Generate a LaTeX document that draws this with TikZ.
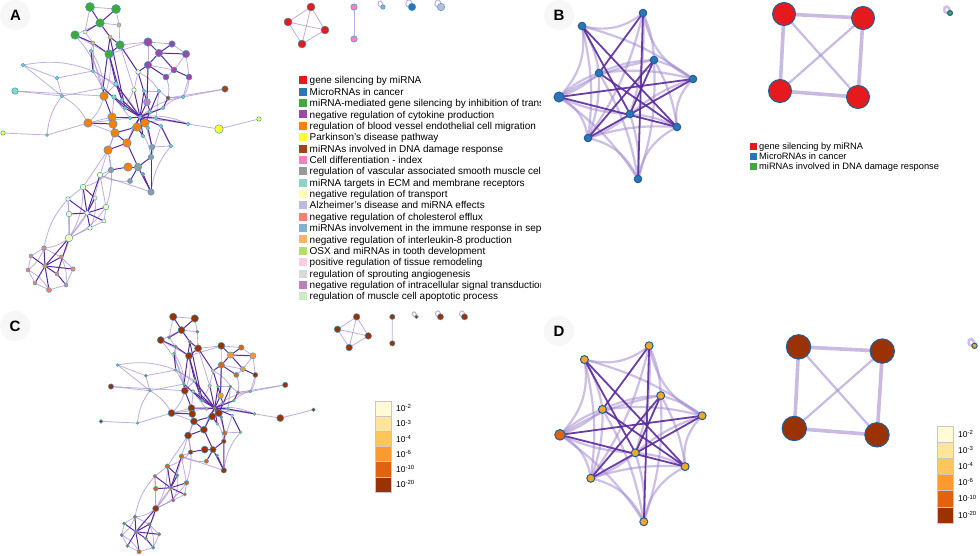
\documentclass[tikz,border=0pt]{standalone}
\usepackage{fontspec}
\setmainfont{Liberation Sans}
\pgfdeclarelayer{bglayer}
\pgfdeclarelayer{edgelayer}
\pgfsetlayers{bglayer,edgelayer,main}
% group colours
\definecolor{cRed}{HTML}{E41A1C}
\definecolor{cBlue}{HTML}{2E75B6}
\definecolor{cGreen}{HTML}{41A83E}
\definecolor{cPurple}{HTML}{9B4AA3}
\definecolor{cOrange}{HTML}{FF7F00}
\definecolor{cYellow}{HTML}{FFFF33}
\definecolor{cBrown}{HTML}{A0441A}
\definecolor{cPink}{HTML}{F781BF}
\definecolor{cGray}{HTML}{999999}
\definecolor{cTeal}{HTML}{8DD3C7}
\definecolor{cLYellow}{HTML}{FFFFB3}
\definecolor{cLav}{HTML}{BEBADA}
\definecolor{cSalmon}{HTML}{FB8072}
\definecolor{cSky}{HTML}{80B1D3}
\definecolor{cLOrange}{HTML}{FDB462}
\definecolor{cLGreen}{HTML}{B3DE69}
\definecolor{cLPink}{HTML}{FCCDE5}
\definecolor{cLGray}{HTML}{D9D9D9}
\definecolor{cMauve}{HTML}{BC80BD}
\definecolor{cPaleGreen}{HTML}{CCEBC5}
% p-value colours
\definecolor{pA}{HTML}{FFFBD5}
\definecolor{pB}{HTML}{FFE49C}
\definecolor{pC}{HTML}{FEC65A}
\definecolor{pD}{HTML}{FD9A2D}
\definecolor{pE}{HTML}{E2620F}
\definecolor{pF}{HTML}{9A3204}
\definecolor{pGn}{HTML}{8CC152}
\definecolor{pAm}{HTML}{F5A623}
% lines
\definecolor{edgeDark}{HTML}{5B2A9C}
\definecolor{edgeLight}{HTML}{A48CD0}
\definecolor{nodeBd}{HTML}{3B9BC8}
\definecolor{bBd}{HTML}{1F5F99}
\tikzset{
  netnode/.style={circle,draw=nodeBd,line width=0.45pt,inner sep=0pt,outer sep=0pt},
  bignode/.style={circle,draw=bBd,line width=1pt,inner sep=0pt,outer sep=0pt},
  darkA/.style={draw=edgeDark,line width=1pt},
  lightA/.style={draw=edgeLight,line width=0.8pt,opacity=0.7},
  darkB/.style={draw=edgeDark,line width=1.8pt,opacity=0.9},
  lightB/.style={draw=edgeLight,line width=2.2pt,opacity=0.55},
  sideB/.style={draw=edgeLight,line width=3.6pt,opacity=0.6},
  diagB/.style={draw=edgeLight,line width=2.2pt,opacity=0.6},
  panellabel/.style={font=\fontsize{15}{15}\selectfont\bfseries,inner sep=0pt},
  labeldisc/.style={fill=black!3,draw=none},
  legsq/.style={minimum size=8pt,inner sep=0pt,draw=none},
  legtxt/.style={font=\fontsize{10}{12}\selectfont,inner sep=0pt},
  legtxtB/.style={font=\fontsize{9.3}{11}\selectfont,inner sep=0pt},
  cbox/.style={draw=black!22,line width=0.5pt,minimum width=16pt,inner sep=0pt},
  cbtxt/.style={font=\fontsize{8.5}{10}\selectfont,inner sep=0pt},
}
\newif\ifaltcol
\newcommand\netnd[6]{\ifaltcol\def\ndc{#6}\else\def\ndc{#5}\fi
  \node[netnode,minimum size=#4pt+0.5pt,fill=\ndc] (#1) at (#2,#3) {};}
\newcommand\bnd[6]{\ifaltcol\def\ndc{#6}\else\def\ndc{#5}\fi
  \node[bignode,minimum size=#4pt,fill=\ndc] (#1) at (#2,#3) {};}

\newcommand\netAnodes{%
% green
\netnd{g1}{90}{7}{8.5}{cGreen}{pF}
\netnd{g2}{116}{9}{8.5}{cGreen}{pF}
\netnd{g3}{100}{23}{8}{cGreen}{pF}
\netnd{g4}{75}{35}{8}{cGreen}{pF}
\netnd{g5}{120}{45}{8}{cGreen}{pF}
\netnd{g6}{109}{54}{8}{cGreen}{pF}
\netnd{t1}{119}{25}{3.5}{cLOrange}{pE}
\netnd{t2}{85}{32}{3.5}{cLYellow}{pE}
\netnd{t3}{110}{37}{3.5}{cLOrange}{pE}
\netnd{t4}{93}{43}{3.5}{cLOrange}{pE}
\netnd{t5}{91}{51}{3}{cTeal}{pGn}
% purple
\netnd{p1}{148}{42}{8}{cPurple}{pF}
\netnd{p2}{172}{44}{6}{cPurple}{pE}
\netnd{p3}{159}{53}{7}{cPurple}{pD}
\netnd{p4}{186}{54}{7}{cPurple}{pD}
\netnd{p5}{148}{65}{7}{cPurple}{pE}
\netnd{p6}{174}{70}{5.5}{cPurple}{pD}
\netnd{p7}{166}{77}{5.5}{cPurple}{pE}
\netnd{p8}{189}{77}{5.5}{cPurple}{pF}
% small teal
\netnd{c1}{23}{65}{3}{cTeal}{pGn}
\netnd{c2}{57}{78}{3}{cTeal}{pE}
\netnd{c3}{15}{91}{6}{cTeal}{pF}
\netnd{c4}{62}{96}{3}{cTeal}{pGn}
\netnd{c5}{138}{72}{4}{cLYellow}{pC}
\netnd{c6}{93}{71}{3}{cTeal}{pGn}
\netnd{c7}{116}{84}{4}{cTeal}{pC}
\netnd{c8}{134}{90}{4}{cLYellow}{pC}
\netnd{c9}{144}{91}{3}{cTeal}{pGn}
\netnd{c10}{159}{91}{3}{cTeal}{pE}
\netnd{c11}{103}{88}{3}{cTeal}{pGn}
\netnd{c12}{114}{97}{4}{cTeal}{pC}
\netnd{c13}{183}{97}{3}{cTeal}{pGn}
\netnd{c14}{188}{124}{3}{cTeal}{pGn}
\netnd{c15}{171}{146}{3}{cTeal}{pGn}
% hub
\netnd{H}{140}{117}{3}{cTeal}{pE}
\netnd{h1}{130}{118}{3}{cTeal}{pC}
\netnd{h2}{125}{108}{3}{cTeal}{pGn}
\netnd{h3}{150}{112}{3}{cTeal}{pE}
\netnd{h4}{156}{118}{3}{cTeal}{pGn}
\netnd{h5}{161}{126}{3}{cTeal}{pC}
\netnd{h6}{148}{128}{3}{cTeal}{pE}
\netnd{h7}{133}{128}{3}{cTeal}{pGn}
\netnd{h8}{143}{136}{3}{cTeal}{pC}
\netnd{h9}{163}{108}{3}{cTeal}{pGn}
\netnd{h10}{122}{100}{3}{cTeal}{pE}
% brown, mauve
\netnd{b1}{225}{89}{6}{cBrown}{pF}
\netnd{b2}{168}{98}{3.5}{cBrown}{pE}
\netnd{l1}{147}{102}{6.5}{cMauve}{pD}
% orange
\netnd{o1}{104}{96}{8}{cOrange}{pF}
\netnd{o2}{88}{123}{8}{cOrange}{pF}
\netnd{o3}{112}{117}{8}{cOrange}{pF}
\netnd{o4}{113}{124}{8}{cOrange}{pF}
\netnd{o5}{137}{127}{8}{cOrange}{pF}
\netnd{o6}{145}{123}{8}{cOrange}{pF}
\netnd{o7}{115}{133}{8}{cOrange}{pF}
\netnd{o8}{127}{143}{8}{cOrange}{pF}
\netnd{o9}{108}{150}{8}{cOrange}{pF}
\netnd{o10}{128}{167}{8}{cOrange}{pF}
% yellow
\netnd{y1}{219}{129}{8}{cYellow}{pF}
\netnd{y2}{259}{119}{4}{cYellow}{pF}
\netnd{y3}{3}{133}{4}{cYellow}{pF}
\netnd{y4}{47}{135}{2.5}{cLGreen}{pGn}
% gray
\netnd{gr1}{152}{147}{5}{cGray}{pE}
\netnd{gr2}{151}{157}{5}{cGray}{pF}
\netnd{gr3}{138}{167}{7}{cGray}{pF}
\netnd{gr5}{111}{170}{5}{cGray}{pF}
\netnd{gr6}{130}{181}{4.5}{cGray}{pE}
\netnd{gr7}{151}{192}{6}{cGray}{pF}
\netnd{sg}{143}{174}{3}{cGray}{pE}
% light yellow cluster
\netnd{ly1}{100}{175}{5}{cLYellow}{pE}
\netnd{ly2}{83}{187}{5}{cLYellow}{pE}
\netnd{ly3}{68}{199}{4}{cLYellow}{pE}
\netnd{ly4}{95}{198}{3.5}{cLYellow}{pE}
\netnd{ly5}{106}{207}{5}{cLYellow}{pE}
\netnd{ly6}{69}{214}{5}{cLYellow}{pE}
\netnd{ly7}{87}{213}{4}{cLYellow}{pE}
\netnd{ly8}{104}{221}{3.5}{cLYellow}{pE}
\netnd{ly9}{90}{228}{4}{cLYellow}{pE}
\netnd{ly10}{69}{238}{7}{cLYellow}{pF}
% salmon cluster
\netnd{s1}{44}{248}{4}{cSalmon}{pE}
\netnd{s2}{31}{256}{3.5}{cSalmon}{pE}
\netnd{s3}{61}{257}{3.5}{cSalmon}{pE}
\netnd{s4}{45}{266}{4}{cSalmon}{pE}
\netnd{s5}{73}{269}{4}{cSalmon}{pE}
\netnd{s6}{28}{270}{3.5}{cSalmon}{pE}
\netnd{s7}{57}{274}{3.5}{cSalmon}{pE}
\netnd{s8}{35}{283}{3.5}{cSalmon}{pE}
\netnd{s9}{66}{285}{3.5}{cSalmon}{pE}
\netnd{s10}{49}{290}{4.5}{cSalmon}{pE}
% small components
\netnd{r1}{311}{7}{7.5}{cRed}{pF}
\netnd{r2}{288}{22}{7.5}{cRed}{pF}
\netnd{r3}{325}{30}{7.5}{cRed}{pF}
\netnd{r4}{302}{44}{7.5}{cRed}{pF}
\netnd{k1}{354}{7}{6}{cPink}{pF}
\netnd{k2}{354}{39}{6}{cPink}{pF}
\netnd{L1}{383}{7}{4}{cSky}{pF}
\netnd{L2}{412}{7}{7}{cBlue}{pF}
\netnd{L3}{441}{7}{7}{cLav}{pF}
}

\newcommand\netAedges{%
\foreach \a/\b in {g1/g2, g2/t1, t1/g5, g1/t2, g3/g4, g4/g6, t2/t4, t4/t5, g3/t1,
  g5/p1, g6/p1, p1/p2, p2/p4, p4/p8, p7/p6, p5/p6, p4/p6, p1/p5, c1/c2, c1/c4,
  c3/c4, c2/c6, c4/c11, c3/o1, c2/c4, c6/c11, y3/y4, y4/o2, y1/y2, y1/c14, c14/H,
  b1/c13, c13/b2, b1/b2, c15/h5, o9/ly1, o9/ly2, ly1/gr5, ly3/ly6, ly6/ly10,
  ly9/ly10, ly10/ly3, ly2/ly3, ly5/ly8, ly8/ly9, ly1/ly5, ly10/ly7, s2/s6, s6/s8,
  s8/s10, s10/s9, s9/s5, s5/s3, s3/s1, s1/s2, o1/c7, o2/o3, o2/o7, o6/gr1,
  gr1/c15, c5/c8, c9/c10, c13/p8, c10/b2, o9/gr5, gr7/ly1, o7/o9, r1/r2, r1/r3,
  r2/r4, r3/r4, r1/r4, r2/r3, k1/k2, t5/o1, c6/c7, c12/o3, h3/h9, h4/c10, h6/gr1,
  h7/o8, h1/o2, l1/p5, c8/h2, c9/l1, h5/gr2, g5/c8, t4/c6, c12/h1}
  {\draw[lightA] (\a) -- (\b);}
\foreach \a/\b in {H/c13, H/c14, g4/o1, c6/H, ly5/ly10, s1/ly3, ly1/ly10, gr6/ly1,
  o9/ly5, c5/c10, p7/b2, o5/gr2, o6/c14, p8/c13, y4/c4, ly10/s3, ly10/s1, s1/s6,
  s3/s9, s6/s10, gr5/ly2, o4/o9, g6/o1, t5/c11, c1/c6, c4/o2, h9/c13, gr7/c15,
  o1/o2, ly2/ly10, ly4/ly9}
  {\draw[lightA] (\a) to[bend left=15] (\b);}
\foreach \n in {L1,L2,L3}
  {\draw[lightA,line width=1pt] (\n.west) .. controls +(-6,-2) and +(-3,-9) .. (\n.north);}
\foreach \a/\b in {g1/g3, g2/g3, g3/t3, t3/g5, t2/g3, g4/t4, t4/g6, g5/g6, g6/c7,
  t3/c11, g5/c5, g6/h10, t5/c6, p1/p3, p3/p4, p3/p5, p3/p6, p6/p8, p5/p7, p2/p3,
  p5/c5, H/o3, h3/o6, H/o6, h7/o7, H/o8, H/l1, H/c7, H/c8, H/c9, h3/c10, H/h1, H/h2,
  H/h3, H/h4, H/h5, H/h6, H/h7, H/h8, H/h9, H/h10, h6/gr1, h9/b2, h5/c15, H/c12, l1/p5,
  o2/o4, o3/o4, o4/o7, o7/o8, o8/o9, o5/o6, o1/o3, c11/o1, o10/gr3, gr1/gr2,
  gr2/gr3, gr3/gr7, gr3/gr6, gr5/o10, sg/gr7, o8/gr3, gr2/gr7, ly7/ly1, ly7/ly2,
  ly7/ly3, ly7/ly5, ly7/ly6, ly7/ly9, ly7/ly8, ly7/ly4, ly4/ly2, s4/s1, s4/s2,
  s4/s3, s4/s5, s4/s7, s4/s8, s4/s10, s7/s9, ly10/s4, ly10/s7, h2/t3, h2/c11, h10/c7,
  h8/o5, h4/c14, c5/h3}
  {\draw[darkA] (\a) -- (\b);}
}

\newcommand\netBnodes{%
\bnd{n1}{643}{13}{7.5}{cBlue}{pAm}
\bnd{n2}{582}{26}{7.5}{cBlue}{pAm}
\bnd{n3}{654}{60}{7.5}{cBlue}{pAm}
\bnd{n4}{599}{73}{7.5}{cBlue}{pAm}
\bnd{n5}{693}{79}{7.5}{cBlue}{pAm}
\bnd{n6}{559}{97}{10}{cBlue}{pE}
\bnd{n7}{630}{114}{7.5}{cBlue}{pAm}
\bnd{n8}{677}{127}{7.5}{cBlue}{pAm}
\bnd{n9}{588}{138}{7.5}{cBlue}{pAm}
\bnd{n10}{638}{179}{7.5}{cBlue}{pAm}
\bnd{R1}{784}{14}{23}{cRed}{pF}
\bnd{R2}{863}{18}{23}{cRed}{pF}
\bnd{R3}{780}{91}{23}{cRed}{pF}
\bnd{R4}{858}{97}{23}{cRed}{pF}
\bnd{Gl}{950}{13}{5}{cGreen}{pAm}
}
\newcommand\netBedges{%
\foreach \a/\b in {n2/n1, n1/n5, n5/n8, n8/n10, n10/n9, n9/n6, n6/n2}
  {\draw[lightB] (\a) to[bend right=25] (\b);}
\foreach \a/\b in {n4/n5, n4/n3, n7/n9, n7/n10, n3/n5, n4/n9, n7/n6, n2/n4, n1/n7,
  n3/n8, n6/n3, n9/n8, n2/n5, n4/n6, n7/n8, n6/n10, n1/n3, n2/n9, n4/n10, n3/n10,
  n7/n5, n1/n9, n6/n4}
  {\draw[lightB] (\a) to[bend left=10] (\b);}
\foreach \a/\b in {n1/n10, n2/n8, n6/n5, n6/n8, n3/n9, n9/n5, n2/n7, n4/n8, n3/n7, n1/n4}
  {\draw[darkB] (\a) -- (\b);}
\foreach \a/\b in {R1/R2, R2/R4, R4/R3, R3/R1}
  {\draw[sideB] (\a) -- (\b);}
\foreach \a/\b in {R1/R4, R2/R3}
  {\draw[diagB] (\a) -- (\b);}
\draw[lightB,line width=2.5pt] (Gl.west) .. controls +(-7,-1) and +(-4,-10) .. (Gl.north);
}

\begin{document}
\begin{tikzpicture}[x=1pt,y=-1pt]
\useasboundingbox (0,0) rectangle (980,555);
\begin{pgfonlayer}{bglayer}
\fill[white] (0,0) rectangle (980,555);
% panel label discs
\fill[labeldisc] (15,15) circle (15);
\fill[labeldisc] (559,15) circle (15);
\fill[labeldisc] (15,326) circle (15);
\fill[labeldisc] (559,331) circle (15);
\end{pgfonlayer}
\node[panellabel] (labA) at (15.5,15) {A};
\node[panellabel] (labB) at (559,15) {B};
\node[panellabel] (labC) at (15,326) {C};
\node[panellabel] (labD) at (559,331) {D};

% ---------- Panel A ----------
\begin{scope}[name prefix=A-]
\altcolfalse
\netAnodes
\begin{pgfonlayer}{edgelayer}\netAedges\end{pgfonlayer}
\end{scope}

% legend A
\begin{scope}
\clip (295,60) rectangle (540,305);
\foreach \c/\t [count=\i from 0] in {
  cRed/gene silencing by miRNA,
  cBlue/MicroRNAs in cancer,
  cGreen/miRNA-mediated gene silencing by inhibition of translation,
  cPurple/negative regulation of cytokine production,
  cOrange/regulation of blood vessel endothelial cell migration,
  cYellow/Parkinson's disease pathway,
  cBrown/miRNAs involved in DNA damage response,
  cPink/Cell differentiation - index,
  cGray/regulation of vascular associated smooth muscle cell proliferation,
  cTeal/miRNA targets in ECM and membrane receptors,
  cLYellow/negative regulation of transport,
  cLav/Alzheimer's disease and miRNA effects,
  cSalmon/negative regulation of cholesterol efflux,
  cSky/miRNAs involvement in the immune response in sepsis,
  cLOrange/negative regulation of interleukin-8 production,
  cLGreen/OSX and miRNAs in tooth development,
  cLPink/positive regulation of tissue remodeling,
  cLGray/regulation of sprouting angiogenesis,
  cMauve/negative regulation of intracellular signal transduction,
  cPaleGreen/regulation of muscle cell apoptotic process}
{
  \node[legsq,fill=\c] (lqA\i) at (303,{80.3+11.37*\i}) {};
  \node[legtxt,anchor=base west] (ltA\i) at (309.5,{83.9+11.37*\i}) {\t};
}
\end{scope}

% ---------- Panel C ----------
\begin{scope}[shift={(98.5,311)},scale=0.83,transform shape,name prefix=C-]
\altcoltrue
\netAnodes
\begin{pgfonlayer}{edgelayer}\netAedges\end{pgfonlayer}
\end{scope}

% colour bar C
\foreach \c/\l [count=\i from 0] in {pA/-2,pB/-3,pC/-4,pD/-6,pE/-10,pF/-20}
{
  \node[cbox,fill=\c,minimum height=15.17pt] (cbC\i) at (383,{408.6+15.17*\i}) {};
  \node[cbtxt,anchor=base west] (ctC\i) at (396,{411.8+15.17*\i}) {10\textsuperscript{\l}};
}

% ---------- Panel B ----------
\begin{scope}[name prefix=B-]
\altcolfalse
\netBnodes
\begin{pgfonlayer}{edgelayer}\netBedges\end{pgfonlayer}
\end{scope}

% legend B
\foreach \c/\t [count=\i from 0] in {
  cRed/gene silencing by miRNA,
  cBlue/MicroRNAs in cancer,
  cGreen/miRNAs involved in DNA damage response}
{
  \node[legsq,minimum size=7pt,fill=\c] (lqB\i) at (753.5,{146+10.3*\i}) {};
  \node[legtxtB,anchor=base west] (ltB\i) at (759,{149.3+10.3*\i}) {\t};
}

% ---------- Panel D ----------
\begin{scope}[shift={(-32.5,332)},scale=1.06,transform shape,name prefix=D-]
\altcoltrue
\netBnodes
\begin{pgfonlayer}{edgelayer}\netBedges\end{pgfonlayer}
\end{scope}

% colour bar D
\foreach \c/\l [count=\i from 0] in {pA/-2,pB/-3,pC/-4,pD/-6,pE/-10,pF/-20}
{
  \node[cbox,fill=\c,minimum height=16.17pt] (cbD\i) at (945,{434.1+16.17*\i}) {};
  \node[cbtxt,anchor=base west] (ctD\i) at (958,{437.3+16.17*\i}) {10\textsuperscript{\l}};
}
\end{tikzpicture}
\end{document}
